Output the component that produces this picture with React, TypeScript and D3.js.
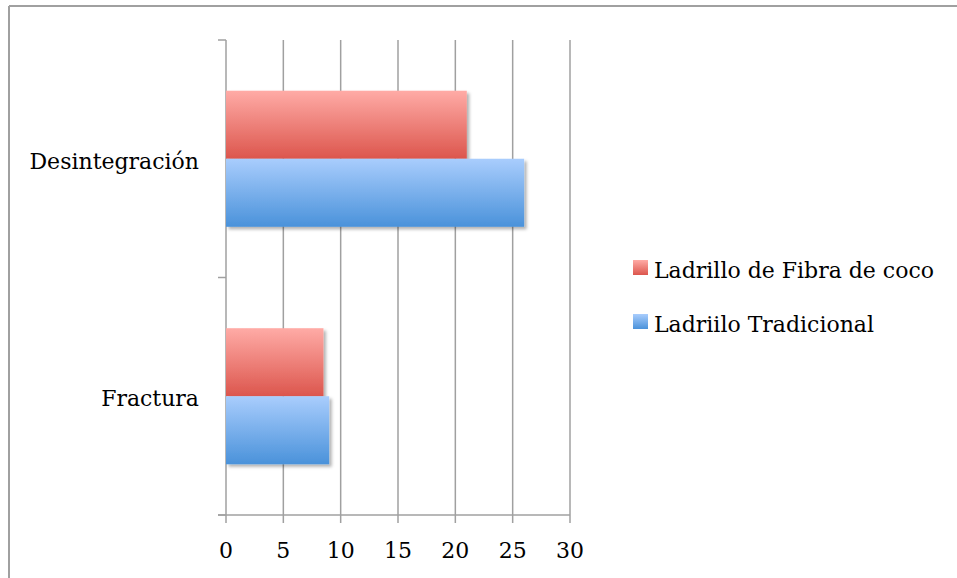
import React from "react";
import * as d3 from "d3";

const categories = ["Desintegración", "Fractura"];
const seriesNames = ["Ladrillo de Fibra de coco", "Ladriilo Tradicional"];
const fibraCoco = [21, 8.5];
const tradicional = [26, 9];
const xTicks = [0, 5, 10, 15, 20, 25, 30];

const W = 957;
const H = 578;
const FONT = "'DejaVu Serif', serif";

export default function App() {
  const left = 226, right = 570, top = 40, bottom = 515;
  const x = d3.scaleLinear().domain([0, 30]).range([left, right]);
  const y = d3.scaleBand().domain(categories).range([top, bottom]).paddingInner(0.427).paddingOuter(0.2135);
  const sub = d3.scaleBand().domain(seriesNames).range([0, y.bandwidth()]);
  const series = [
    { name: seriesNames[0], values: fibraCoco, grad: "gRed" },
    { name: seriesNames[1], values: tradicional, grad: "gBlue" },
  ];
  const band = (bottom - top) / categories.length;
  const catTicks = d3.range(categories.length + 1).map((i) => top + i * band);
  const gridColor = "#a0a0a0";

  return (
    <div style={{ position: "absolute", left: 0, top: 0 }}>
      <svg width={W} height={H} style={{ display: "block", background: "#fff" }}>
        <defs>
          <linearGradient id="gRed" x1="0" y1="0" x2="0" y2="1">
            <stop offset="0" stopColor="#ffaba6" />
            <stop offset="1" stopColor="#dc564d" />
          </linearGradient>
          <linearGradient id="gBlue" x1="0" y1="0" x2="0" y2="1">
            <stop offset="0" stopColor="#a9cdfd" />
            <stop offset="1" stopColor="#4a92da" />
          </linearGradient>
          <filter id="shadow" x="-10%" y="-10%" width="130%" height="140%">
            <feDropShadow dx="2.5" dy="2.5" stdDeviation="1.8" floodColor="#000" floodOpacity="0.3" />
          </filter>
        </defs>
        {/* outer frame */}
        <line x1={9} y1={6} x2={W} y2={6} stroke={gridColor} strokeWidth={2} />
        <line x1={9} y1={6} x2={9} y2={H} stroke={gridColor} strokeWidth={2} />

        {/* vertical grid lines + bottom ticks */}
        {xTicks.map((t) => (
          <line key={"g" + t} x1={x(t)} x2={x(t)} y1={top} y2={bottom + 8} stroke={gridColor} strokeWidth={1.5} />
        ))}
        {/* bottom axis */}
        <line x1={left - 8} x2={right} y1={bottom} y2={bottom} stroke={gridColor} strokeWidth={1.5} />
        {/* category ticks */}
        {catTicks.map((t, i) => (
          <line key={"c" + i} x1={left - 8} x2={left} y1={t} y2={t} stroke={gridColor} strokeWidth={1.5} />
        ))}

        {/* bars */}
        {categories.map((c, ci) =>
          series.map((s) => (
            <rect
              key={c + s.name}
              x={x(0)}
              y={(y(c) as number) + (sub(s.name) as number)}
              width={x(s.values[ci]) - x(0)}
              height={sub.bandwidth()}
              fill={`url(#${s.grad})`}
              filter="url(#shadow)"
            />
          ))
        )}

        {/* tick labels */}
        {xTicks.map((t) => (
          <text key={"l" + t} x={x(t)} y={558} textAnchor="middle" fontFamily={FONT} fontSize={22} fill="#000">
            {t}
          </text>
        ))}
        {categories.map((c) => (
          <text
            key={"cl" + c}
            x={199}
            y={(y(c) as number) + y.bandwidth() / 2 + 10}
            textAnchor="end"
            fontFamily={FONT}
            fontSize={22}
            fill="#000"
          >
            {c}
          </text>
        ))}

        {/* legend */}
        {series.map((s, i) => (
          <g key={"lg" + i} transform={`translate(633, ${260 + i * 54})`}>
            <rect x={0} y={0} width={15} height={15} fill={`url(#${s.grad})`} />
            <text x={21} y={18} fontFamily={FONT} fontSize={22} fill="#000">
              {s.name}
            </text>
          </g>
        ))}
      </svg>
    </div>
  );
}
